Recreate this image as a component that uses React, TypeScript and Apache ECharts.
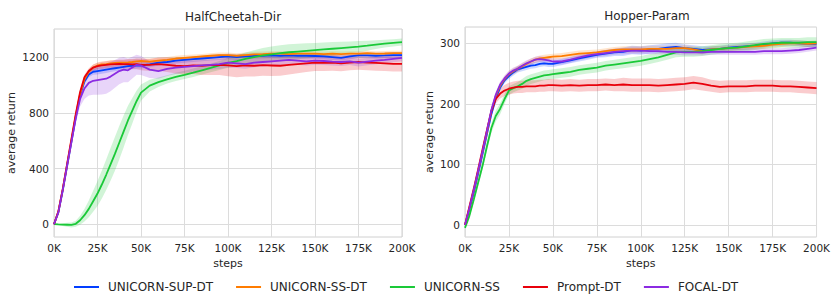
import React, { useEffect, useRef } from "react";
import * as echarts from "echarts";

// x positions in thousands of steps
const steps = [0, 2.5, 5, 7.5, 10, 12.5, 15, 17.5, 20, 22.5, 25, 27.5, 30, 32.5, 35, 37.5, 40, 42.5, 45, 47.5, 50,
  55, 60, 65, 70, 75, 80, 85, 90, 95, 100, 105, 110, 115, 120, 125, 130, 135, 140, 145, 150, 155, 160, 165, 170, 175, 180, 185, 190, 195, 200];

const seriesNames = ["UNICORN-SUP-DT", "UNICORN-SS-DT", "UNICORN-SS", "Prompt-DT", "FOCAL-DT"];
const seriesColors = ["#023eff", "#ff7c00", "#1ac938", "#e8000b", "#8b2be2"];
const xTickLabels = [0, 25, 50, 75, 100, 125, 150, 175, 200];
const hcYTicks = [0, 400, 800, 1200];
const hpYTicks = [0, 100, 200, 300];
const chartTitles = ["HalfCheetah-Dir", "Hopper-Param"];

// ---------- HalfCheetah-Dir ----------
const hcSupMean = [0, 85, 240, 415, 590, 770, 925, 1025, 1075, 1095, 1100, 1105, 1110, 1115, 1120, 1125, 1130, 1135, 1138, 1140, 1140,
  1148, 1160, 1165, 1175, 1180, 1185, 1190, 1195, 1200, 1205, 1200, 1205, 1208, 1210, 1212, 1210, 1212, 1210, 1210, 1208, 1205, 1200, 1195, 1205, 1212, 1212, 1210, 1212, 1215, 1215];
const hcSupStd = [0, 5, 8, 10, 12, 14, 16, 18, 20, 22, 24, 24, 24, 22, 22, 22, 22, 22, 22, 22, 22,
  20, 20, 20, 20, 20, 20, 20, 20, 20, 20, 20, 20, 20, 20, 20, 20, 20, 20, 20, 20, 20, 20, 20, 20, 20, 20, 20, 20, 20, 20];
const hcSsdtMean = [0, 90, 250, 425, 600, 780, 935, 1040, 1095, 1125, 1140, 1148, 1150, 1155, 1158, 1160, 1160, 1162, 1165, 1170, 1172,
  1168, 1175, 1180, 1190, 1195, 1200, 1205, 1210, 1215, 1215, 1210, 1215, 1220, 1222, 1225, 1225, 1222, 1225, 1225, 1225, 1222, 1225, 1222, 1225, 1225, 1228, 1225, 1226, 1228, 1228];
const hcSsdtStd = [0, 6, 8, 10, 12, 14, 16, 18, 20, 22, 22, 22, 22, 22, 22, 22, 22, 22, 22, 22, 22,
  20, 20, 20, 20, 20, 18, 18, 18, 18, 18, 18, 18, 18, 18, 18, 18, 18, 18, 18, 18, 18, 18, 18, 18, 18, 18, 18, 18, 18, 18];
const hcSsMean = [0, -2, -3, -4, -5, 3, 28, 65, 110, 165, 220, 285, 355, 430, 505, 585, 665, 745, 815, 885, 945,
  995, 1020, 1040, 1058, 1072, 1088, 1105, 1122, 1140, 1158, 1172, 1188, 1200, 1212, 1220, 1228, 1235, 1240, 1245, 1250, 1255, 1260, 1265, 1270, 1275, 1282, 1290, 1297, 1303, 1308];
const hcSsStd = [0, 6, 10, 14, 18, 22, 32, 45, 60, 75, 90, 100, 110, 118, 122, 120, 115, 105, 92, 75, 58,
  42, 34, 30, 30, 30, 30, 30, 30, 32, 35, 40, 45, 50, 54, 56, 57, 57, 56, 54, 52, 50, 48, 45, 42, 40, 36, 32, 28, 26, 25];
const hcPromptMean = [0, 90, 250, 430, 610, 790, 950, 1055, 1100, 1125, 1135, 1140, 1145, 1148, 1150, 1152, 1150, 1150, 1148, 1150, 1145,
  1145, 1150, 1145, 1138, 1135, 1140, 1138, 1142, 1145, 1140, 1135, 1140, 1138, 1142, 1140, 1138, 1145, 1150, 1155, 1160, 1158, 1160, 1155, 1160, 1165, 1160, 1158, 1155, 1152, 1152];
const hcPromptStd = [0, 5, 8, 10, 12, 14, 16, 18, 20, 22, 24, 25, 26, 27, 28, 30, 32, 34, 36, 38, 40,
  44, 48, 52, 55, 58, 62, 66, 70, 74, 78, 80, 80, 78, 76, 75, 72, 70, 66, 62, 60, 58, 58, 56, 55, 55, 55, 55, 55, 55, 55];
const hcFocalMean = [0, 85, 245, 420, 590, 760, 900, 975, 1015, 1030, 1035, 1040, 1045, 1060, 1080, 1100, 1110, 1105, 1125, 1145, 1140,
  1110, 1100, 1115, 1125, 1130, 1135, 1140, 1145, 1150, 1160, 1155, 1150, 1160, 1165, 1170, 1175, 1180, 1175, 1170, 1175, 1172, 1168, 1165, 1170, 1160, 1168, 1175, 1180, 1188, 1195];
const hcFocalStd = [0, 8, 12, 16, 22, 35, 55, 75, 90, 100, 105, 108, 108, 105, 100, 95, 90, 85, 78, 72, 68,
  60, 55, 50, 46, 42, 40, 38, 36, 35, 35, 34, 33, 32, 32, 32, 31, 30, 30, 30, 30, 29, 28, 28, 27, 27, 26, 26, 25, 25, 25];

// ---------- Hopper-Param ----------
const hpSupMean = [0, 25, 53, 85, 117, 150, 183, 209, 227, 239, 246, 252, 257, 259, 261, 263, 264, 266, 267, 266, 266,
  269, 272, 275, 278, 281, 283, 285, 286, 289, 288, 290, 291, 293, 294, 292, 291, 289, 290, 291, 293, 294, 295, 296, 298, 300, 301, 301, 300, 299, 299];
const hpSupStd = [0, 2, 3, 3, 4, 4, 5, 5, 5, 5, 5, 5, 5, 5, 5, 5, 5, 5, 5, 5, 5,
  5, 5, 5, 5, 5, 6, 6, 7, 7, 7, 7, 7, 7, 7, 6, 6, 6, 5, 5, 5, 5, 5, 5, 5, 5, 5, 5, 5, 5, 5];
const hpSsdtMean = [0, 28, 57, 89, 121, 154, 188, 213, 230, 241, 249, 254, 258, 262, 266, 270, 273, 275, 276, 277, 278,
  279, 281, 283, 284, 285, 287, 289, 290, 290, 290, 291, 291, 291, 292, 292, 290, 287, 290, 291, 292, 293, 294, 295, 296, 298, 299, 300, 300, 299, 300];
const hpSsdtStd = [0, 2, 3, 3, 4, 4, 5, 5, 5, 5, 5, 5, 5, 5, 5, 5, 5, 5, 5, 5, 5,
  5, 5, 5, 5, 5, 5, 5, 5, 5, 5, 5, 5, 5, 5, 5, 5, 5, 5, 5, 5, 5, 5, 5, 5, 5, 5, 5, 5, 5, 5];
const hpSsMean = [-5, 15, 42, 70, 98, 130, 160, 180, 192, 208, 222, 226, 229, 233, 238, 241, 243, 245, 247, 248, 249,
  251, 253, 256, 258, 260, 263, 265, 267, 269, 271, 274, 277, 281, 285, 286, 286, 287, 289, 291, 292, 293, 295, 297, 299, 300, 301, 301, 301, 302, 302];
const hpSsStd = [0, 3, 4, 5, 6, 7, 8, 9, 9, 8, 7, 7, 7, 8, 8, 8, 8, 8, 8, 8, 8,
  8, 8, 8, 8, 8, 8, 8, 8, 8, 8, 8, 8, 8, 8, 8, 8, 8, 8, 8, 8, 8, 8, 8, 8, 8, 8, 8, 8, 8, 8];
const hpPromptMean = [0, 30, 60, 92, 125, 157, 188, 208, 217, 222, 225, 227, 228, 228, 229, 229, 229, 230, 230, 231, 231,
  230, 231, 230, 231, 231, 232, 231, 232, 231, 231, 231, 230, 231, 232, 233, 235, 233, 230, 228, 229, 229, 229, 230, 230, 230, 229, 229, 228, 227, 226];
const hpPromptStd = [0, 2, 3, 3, 4, 5, 6, 7, 8, 9, 10, 10, 10, 10, 10, 10, 10, 10, 10, 10, 10,
  10, 10, 10, 10, 10, 10, 10, 11, 11, 11, 11, 11, 11, 11, 11, 11, 11, 10, 10, 10, 10, 10, 10, 10, 10, 10, 10, 10, 10, 10];
const hpFocalMean = [0, 28, 58, 90, 122, 156, 190, 215, 232, 242, 250, 255, 258, 263, 267, 270, 273, 274, 273, 272, 270,
  270, 273, 277, 280, 282, 284, 286, 287, 288, 288, 287, 287, 286, 286, 285, 285, 285, 286, 286, 286, 286, 286, 286, 287, 287, 287, 288, 289, 291, 293];
const hpFocalStd = [0, 2, 3, 3, 4, 4, 5, 5, 5, 5, 5, 5, 5, 5, 5, 5, 5, 5, 5, 5, 5,
  5, 5, 5, 5, 5, 5, 5, 5, 5, 5, 5, 5, 5, 5, 5, 5, 5, 5, 5, 5, 5, 5, 5, 5, 5, 5, 5, 5, 5, 5];

const hcMeans = [hcSupMean, hcSsdtMean, hcSsMean, hcPromptMean, hcFocalMean];
const hcStds = [hcSupStd, hcSsdtStd, hcSsStd, hcPromptStd, hcFocalStd];
const hpMeans = [hpSupMean, hpSsdtMean, hpSsMean, hpPromptMean, hpFocalMean];
const hpStds = [hpSupStd, hpSsdtStd, hpSsStd, hpPromptStd, hpFocalStd];

const TXT = "#262626";
const GRIDC = "#dcdcdc";
const FONT = "DejaVu Sans";

function hexA(hex: string, a: number) {
  const n = parseInt(hex.slice(1), 16);
  return `rgba(${(n >> 16) & 255},${(n >> 8) & 255},${n & 255},${a})`;
}

function buildSeries(gi: number, means: number[][], stds: number[][]) {
  const bands: any[] = [];
  const lines: any[] = [];
  means.forEach((m, i) => {
    const s = stds[i];
    const bandData = steps.map((x, k) => [x, m[k] - s[k], m[k] + s[k]]);
    bands.push({
      type: "custom", name: `_band${gi}${i}`, xAxisIndex: gi, yAxisIndex: gi,
      coordinateSystem: "cartesian2d", silent: true, clip: true, z: 1,
      encode: { x: 0, y: [1, 2] },
      data: bandData,
      renderItem: (params: any, api: any) => {
        if (params.dataIndex !== 0) return null;
        const upper = bandData.map((d) => api.coord([d[0], d[2]]));
        const lower = bandData.map((d) => api.coord([d[0], d[1]])).reverse();
        return {
          type: "polygon",
          shape: { points: [...upper, ...lower] },
          style: { fill: hexA(seriesColors[i], 0.2), stroke: "none" },
        };
      },
    });
    lines.push({
      type: "line", name: seriesNames[i], xAxisIndex: gi, yAxisIndex: gi,
      data: steps.map((x, k) => [x, m[k]]), showSymbol: false, symbol: "none",
      lineStyle: { color: seriesColors[i], width: 1.8 }, itemStyle: { color: seriesColors[i] }, z: 3,
    });
  });
  return [...bands, ...lines];
}

function xAxis(gi: number) {
  return {
    type: "value", gridIndex: gi, min: 0, max: 200, interval: 25,
    axisLine: { show: false }, axisTick: { show: false },
    axisLabel: { formatter: (v: number) => (xTickLabels.includes(v) ? `${v}K` : ""), fontSize: 10.5, color: TXT, margin: 5, fontFamily: FONT },
    splitLine: { show: true, lineStyle: { color: GRIDC, width: 1 } },
    name: "steps", nameLocation: "middle", nameGap: 18,
    nameTextStyle: { fontSize: 11, color: TXT, fontFamily: FONT },
  };
}

function yAxis(gi: number, min: number, max: number, ticks: number[], gap: number) {
  return {
    type: "value", gridIndex: gi, min, max,
    axisLine: { show: false },
    axisTick: { show: false, customValues: ticks },
    axisLabel: { customValues: ticks, formatter: (v: number) => String(v), fontSize: 10.5, color: TXT, margin: 5, fontFamily: FONT },
    splitLine: { show: true, lineStyle: { color: GRIDC, width: 1 } },
    name: "average return", nameLocation: "middle", nameGap: gap,
    nameTextStyle: { fontSize: 11, color: TXT, fontFamily: FONT },
  };
}

export default function App() {
  const ref = useRef<HTMLDivElement>(null);
  useEffect(() => {
    document.body.style.margin = "0";
    const chart = echarts.init(ref.current!, null, { renderer: "svg" });
    chart.setOption({
      animation: false,
      backgroundColor: "#ffffff",
      textStyle: { fontFamily: FONT },
      title: [
        { text: chartTitles[0], left: 228, top: 6, textAlign: "center", textStyle: { fontSize: 12, fontWeight: "normal", color: TXT, fontFamily: FONT } },
        { text: chartTitles[1], left: 642, top: 5, textAlign: "center", textStyle: { fontSize: 12, fontWeight: "normal", color: TXT, fontFamily: FONT } },
      ],
      grid: [
        { left: 54, top: 29, width: 348, height: 208, show: true, borderColor: "#d0d0d0", borderWidth: 1, backgroundColor: "transparent" },
        { left: 465, top: 27, width: 354, height: 210, show: true, borderColor: "#d0d0d0", borderWidth: 1, backgroundColor: "transparent" },
      ],
      xAxis: [xAxis(0), xAxis(1)],
      yAxis: [yAxis(0, -92, 1402, hcYTicks, 37), yAxis(1, -20, 327, hpYTicks, 30)],
      legend: {
        data: seriesNames, left: 69, top: 276, icon: "rect", itemWidth: 25, itemHeight: 2, itemGap: 23,
        textStyle: { fontSize: 12, color: TXT, fontFamily: FONT, padding: [0, 0, 0, 4] },
        selectedMode: false,
      },
      series: [...buildSeries(0, hcMeans, hcStds), ...buildSeries(1, hpMeans, hpStds)],
    });
    return () => chart.dispose();
  }, []);
  return <div ref={ref} style={{ position: "fixed", left: 0, top: 0, width: 833, height: 295 }} />;
}
